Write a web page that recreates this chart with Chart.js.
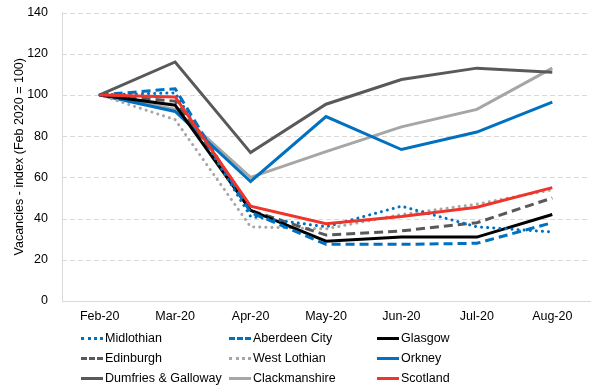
<!DOCTYPE html>
<html>
<head>
<meta charset="utf-8">
<script src="https://cdn.jsdelivr.net/npm/chart.js@4"></script>
<style>
  html, body { margin: 0; padding: 0; background: #fff; }
  #wrap { position: relative; width: 600px; height: 390px; overflow: hidden; }
  #c { position: absolute; left: 0; top: -9px; }
  #legend { position: absolute; left: 0; top: 0; width: 600px; height: 390px; pointer-events: none;
    font-family: "Liberation Sans", Arial, sans-serif; font-size: 12.5px; color: #000; }
  .item { position: absolute; height: 16px; line-height: 16px; white-space: nowrap; }
  .sw { position: absolute; left: 0; top: 7px; width: 22px; height: 0; }
  .tx { position: absolute; left: 24px; top: 0; }
</style>
</head>
<body>
<div id="wrap">
  <canvas id="c" width="600" height="401"></canvas>
  <div id="legend"></div>
</div>
<script>
const categories = ["Feb-20", "Mar-20", "Apr-20", "May-20", "Jun-20", "Jul-20", "Aug-20"];
const yTicks = [0, 20, 40, 60, 80, 100, 120, 140];

const midlothian     = [100, 101, 41, 36, 46, 36, 33.5];
const aberdeenCity   = [100, 103, 43, 27.5, 27.5, 28, 38];
const glasgow        = [100, 95, 44, 29, 31, 31, 42];
const edinburgh      = [100, 97, 44, 32, 34, 38, 50];
const westLothian    = [100, 88, 36, 35, 42, 47, 54];
const orkney         = [100, 92, 58, 89.5, 73.5, 82, 96.5];
const dumfries       = [100, 116, 72, 95.5, 107.5, 113, 111];
const clackmannshire = [100, 93, 60, 72.5, 84.5, 93, 113];
const scotland       = [100, 99, 46, 37.5, 41, 45.5, 55];

const BLUE = "#0070C0", DGRAY = "#595959", LGRAY = "#A6A6A6", RED = "#F0342A";

const series = [
  { label: "Midlothian", data: midlothian, color: BLUE, style: "dot" },
  { label: "Aberdeen City", data: aberdeenCity, color: BLUE, style: "dash" },
  { label: "Glasgow", data: glasgow, color: "#000000", style: "solid" },
  { label: "Edinburgh", data: edinburgh, color: DGRAY, style: "dash" },
  { label: "West Lothian", data: westLothian, color: LGRAY, style: "dot" },
  { label: "Orkney", data: orkney, color: BLUE, style: "solid" },
  { label: "Dumfries & Galloway", data: dumfries, color: DGRAY, style: "solid" },
  { label: "Clackmanshire", data: clackmannshire, color: LGRAY, style: "solid" },
  { label: "Scotland", data: scotland, color: RED, style: "solid" }
];

const datasets = series.map((s, i) => ({
  label: s.label,
  data: s.data,
  borderColor: s.color,
  backgroundColor: s.color,
  borderWidth: 3,
  pointRadius: 0,
  tension: 0,
  fill: false,
  borderDash: s.style === "dot" ? [0.1, 6] : (s.style === "dash" ? [9, 5] : []),
  borderCapStyle: s.style === "dot" ? "round" : "butt",
  borderJoinStyle: "miter",
  order: s.label === "Scotland" ? -1 : i
}));

const FONT = "'Liberation Sans', Arial, sans-serif";

// dashed horizontal gridlines drawn under the data
const dashedGrid = {
  id: "dashedGrid",
  beforeDatasetsDraw(chart) {
    const { ctx, chartArea, scales: { y } } = chart;
    ctx.save();
    ctx.strokeStyle = "#D9D9D9";
    ctx.lineWidth = 1;
    ctx.setLineDash([5, 3]);
    yTicks.forEach(v => {
      if (v === 0) return;
      const py = Math.round(y.getPixelForValue(v)) + 0.5;
      ctx.beginPath();
      ctx.moveTo(chartArea.left, py);
      ctx.lineTo(chartArea.right, py);
      ctx.stroke();
    });
    ctx.restore();
  }
};

new Chart(document.getElementById("c"), {
  type: "line",
  data: { labels: categories, datasets: datasets },
  options: {
    responsive: false,
    animation: false,
    layout: { padding: { top: 4, right: 10, left: 12, bottom: 0 } },
    plugins: { legend: { display: false }, tooltip: { enabled: false } },
    scales: {
      x: {
        offset: true,
        grid: { display: false },
        border: { display: true, color: "#D9D9D9", width: 1 },
        ticks: { color: "#000", font: { family: FONT, size: 12.5 }, padding: 0, maxRotation: 0 },
        afterFit: s => { s.height = 91; }
      },
      y: {
        min: 0, max: 140,
        afterBuildTicks: s => { s.ticks = yTicks.map(v => ({ value: v })); },
        grid: { display: false, drawTicks: false },
        border: { display: true, color: "#D9D9D9", width: 1 },
        ticks: { color: "#000", font: { family: FONT, size: 12.5 }, padding: 14 },
        title: { display: true, text: "Vacancies - index (Feb 2020 = 100)", color: "#000",
                 font: { family: FONT, size: 12.5 }, padding: { top: 0, bottom: 0 } },
        afterFit: s => { s.width = 50; }
      }
    }
  },
  plugins: [dashedGrid]
});

// HTML legend in three columns
const legend = document.getElementById("legend");
const colX = [81, 229, 377];
const rowY = [330, 350, 370];
series.forEach((s, i) => {
  const item = document.createElement("div");
  item.className = "item";
  item.style.left = colX[i % 3] + "px";
  item.style.top = rowY[Math.floor(i / 3)] + "px";
  const sw = document.createElement("div");
  sw.className = "sw";
  let bstyle = s.style === "dot" ? "dotted" : (s.style === "dash" ? "dashed" : "solid");
  sw.style.borderTop = "3px " + bstyle + " " + s.color;
  const tx = document.createElement("span");
  tx.className = "tx";
  tx.textContent = s.label;
  item.appendChild(sw);
  item.appendChild(tx);
  legend.appendChild(item);
});
</script>
</body>
</html>
